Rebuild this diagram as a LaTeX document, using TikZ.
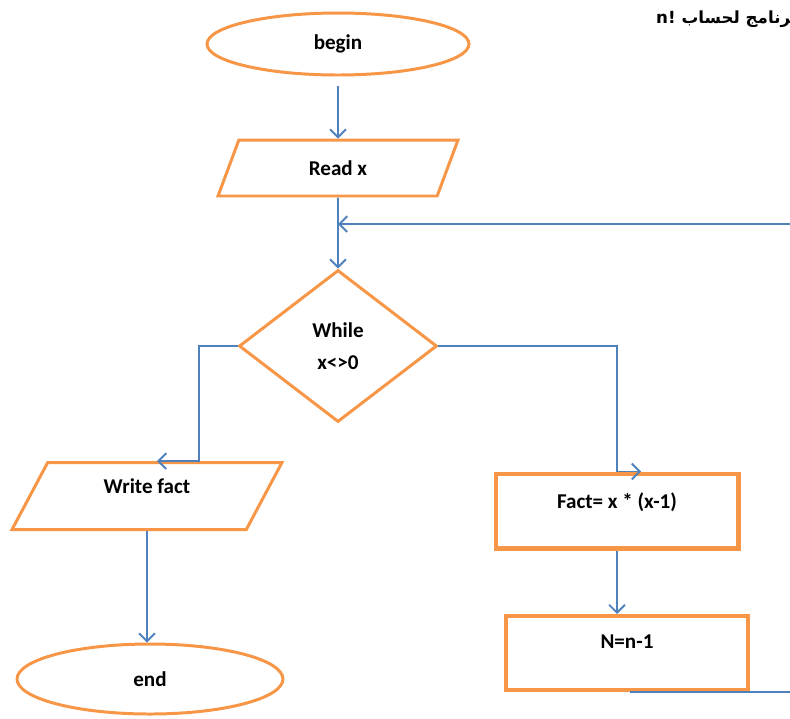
\documentclass[tikz,border=0pt]{standalone}
\usepackage{fontspec}
\setmainfont{Carlito}
\newfontfamily\arabicfont[Script=Arabic]{DejaVu Sans}
\TeXXeTstate=1
\usetikzlibrary{shapes.geometric,arrows.meta}

\definecolor{borange}{RGB}{247,150,70}
\definecolor{lblue}{RGB}{79,129,189}

\begin{document}
\begin{tikzpicture}[x=0.02cm,y=-0.02cm,
    every node/.style={font=\fontsize{12}{14}\selectfont\bfseries},
    term/.style={ellipse,draw=borange,line width=1.7pt},
    io/.style={trapezium,trapezium stretches body,trapezium left angle=52,
        trapezium right angle=128,draw=borange,line width=1.7pt},
    cond/.style={diamond,aspect=1.3,draw=borange,line width=1.7pt,align=center,
        minimum width=3.96cm,minimum height=3.04cm},
    proc/.style={rectangle,draw=borange,line width=2.3pt},
    flow/.style={draw=lblue,line width=1.1pt,-{Straight Barb[length=4.5pt,width=9pt]}},
    link/.style={draw=lblue,line width=1.1pt}]

    \path[use as bounding box] (0,0) rectangle (790,718);
    \clip (0,0) rectangle (790,718);

    %titre
    \node (title) [anchor=west,font=\arabicfont\bfseries\fontsize{9.5}{11}\selectfont]
        at (650,19) {\beginR برنامج لحساب \beginL n!\endL\endR};

    %blocs
    \node (begin) [term,minimum width=5.24cm,minimum height=1.24cm] at (338,44) {begin};
    \node (read) [io,minimum width=4.8cm,minimum height=1.12cm] at (338,168) {Read x};
    \node (while) [cond] at (338,346) {While\\[4.5pt]x<>0};
    \node (write) [io,minimum width=5.4cm,minimum height=1.34cm,text depth=10.9pt]
        at (147,496) {Write fact};
    \node (end) [term,minimum width=5.32cm,minimum height=1.4cm] at (150,679) {end};
    \node (fact) [proc,minimum width=4.86cm,minimum height=1.5cm,text depth=11.6pt]
        at (617,511) {Fact= x * (x-1)};
    \node (dec) [proc,minimum width=4.84cm,minimum height=1.48cm,text depth=13.5pt]
        at (627,653) {N=n-1};

    \coordinate (loopin) at (800,224);
    \coordinate (loopout) at (800,690);

    %fleches
    \draw[flow, shorten <=5.5pt] (begin.south) -- (read.north);
    \draw[flow] (read.south) -- (while.north);
    \draw[flow] (loopin) -- (read.south |- loopin);
    \draw[flow] (while.west) -| ([xshift=1.04cm]write.north) -- ([xshift=0.2cm]write.north);
    \draw[flow] (while.east) -| (fact.north) -- ([xshift=0.48cm]fact.north);
    \draw[flow] (write.south) -- (write.south |- end.north);
    \draw[flow] (fact.south) -- (fact.south |- dec.north);
    \draw[link] ([xshift=0.06cm]dec.south) -- (loopout |- dec.south);

\end{tikzpicture}
\end{document}
